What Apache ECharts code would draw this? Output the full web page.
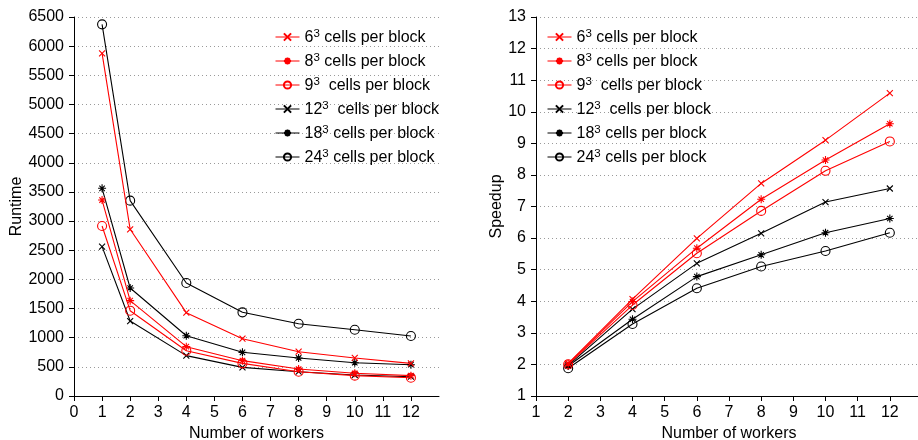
<!DOCTYPE html>
<html>
<head>
<meta charset="utf-8">
<script src="https://cdn.jsdelivr.net/npm/echarts@6/dist/echarts.min.js"></script>
<style>
  html, body { margin: 0; padding: 0; background: #fff; }
  #chart { width: 918px; height: 440px; }
</style>
</head>
<body>
<div id="chart"></div>
<script>
// block sizes (edge length, cubed in the legend)
var blockSizes = ['6', '8', '9', '12', '18', '24'];
var labelGaps = ['', '', ' ', ' ', '', ''];
var seriesColors = ['#ff0000', '#ff0000', '#ff0000', '#000000', '#000000', '#000000'];
var seriesMarks = ['cross', 'star', 'circle', 'cross', 'star', 'circle'];

// runtime plot
var workersRuntime = [1, 2, 4, 6, 8, 10, 12];
var runtime6 = [5877, 2859, 1429, 983, 760, 652, 560];
var runtime8 = [3361, 1635, 846, 606, 463, 389, 349];
var runtime9 = [2916, 1463, 777, 560, 417, 349, 314];
var runtime12 = [2561, 1286, 692, 491, 417, 360, 331];
var runtime18 = [3562, 1852, 1034, 749, 652, 571, 537];
var runtime24 = [6374, 3350, 1938, 1435, 1240, 1137, 1029];

// speedup plot
var workersSpeedup = [2, 4, 6, 8, 10, 12];
var speedup6 = [2.03, 4.07, 5.99, 7.73, 9.10, 10.59];
var speedup8 = [2.02, 3.99, 5.68, 7.23, 8.47, 9.62];
var speedup9 = [2.00, 3.88, 5.52, 6.86, 8.13, 9.06];
var speedup12 = [1.97, 3.75, 5.20, 6.15, 7.14, 7.57];
var speedup18 = [1.95, 3.43, 4.78, 5.47, 6.17, 6.62];
var speedup24 = [1.88, 3.28, 4.41, 5.10, 5.59, 6.17];

var xTicksRuntime = [0, 1, 2, 3, 4, 5, 6, 7, 8, 9, 10, 11, 12];
var xTicksSpeedup = [1, 2, 3, 4, 5, 6, 7, 8, 9, 10, 11, 12];

var runtimeData = [runtime6, runtime8, runtime9, runtime12, runtime18, runtime24];
var speedupData = [speedup6, speedup8, speedup9, speedup12, speedup18, speedup24];

var FONT = '"Liberation Sans", Arial, sans-serif';
var FS = 16;

var markSymbols = {
  cross: { symbol: 'path://M0 0L10 10M10 0L0 10', size: 6 },
  star: { symbol: 'path://M5 0L5 10M0 5L10 5M1.6 1.6L8.4 8.4M8.4 1.6L1.6 8.4', size: 8 },
  circle: { symbol: 'circle', size: 9 }
};

function pairs(xs, ys) {
  return xs.map(function (x, i) { return [x, ys[i]]; });
}

function makeSeries(values, xs, gridIdx) {
  return blockSizes.map(function (b, i) {
    var m = markSymbols[seriesMarks[i]];
    return {
      type: 'line',
      name: b,
      xAxisIndex: gridIdx,
      yAxisIndex: gridIdx,
      data: pairs(xs, values[i]),
      symbol: m.symbol,
      symbolSize: m.size,
      showAllSymbol: true,
      lineStyle: { color: seriesColors[i], width: 1.1 },
      itemStyle: { color: 'none', borderColor: seriesColors[i], borderWidth: 1.1 },
      emphasis: { disabled: true },
      z: 3 + (i < 3 ? 1 : 0)
    };
  });
}

function legendFormatter(name) {
  var i = blockSizes.indexOf(name);
  return '{b|' + name + '}{s|3}{b|' + labelGaps[i] + ' cells per block}';
}

function makeLegend(left) {
  return {
    data: blockSizes.map(function (b, i) {
      return { name: b, lineStyle: { color: seriesColors[i], width: 1 } };
    }),
    orient: 'vertical',
    left: left,
    top: 23,
    itemWidth: 24,
    itemHeight: 9,
    itemGap: 6,
    selectedMode: false,
    formatter: legendFormatter,
    textStyle: {
      fontFamily: FONT,
      color: '#000',
      rich: {
        b: { fontFamily: FONT, fontSize: FS, lineHeight: 18, verticalAlign: 'bottom', color: '#000' },
        s: { fontFamily: FONT, fontSize: 11.5, lineHeight: 11, verticalAlign: 'top', color: '#000' }
      }
    }
  };
}

function xAxis(gridIdx, min, ticks) {
  return {
    type: 'value',
    gridIndex: gridIdx,
    min: min,
    max: 13,
    interval: 1,
    name: 'Number of workers',
    nameLocation: 'middle',
    nameGap: 27,
    nameTextStyle: { fontFamily: FONT, fontSize: FS, color: '#000' },
    axisLine: { onZero: false, lineStyle: { color: '#000', width: 1 } },
    axisTick: { show: true, length: 5, customValues: ticks, lineStyle: { color: '#000' } },
    axisLabel: { customValues: ticks, margin: 9, fontFamily: FONT, fontSize: FS, color: '#000' },
    splitLine: { show: false }
  };
}

function yAxis(gridIdx, min, max, step, name, gap) {
  return {
    type: 'value',
    gridIndex: gridIdx,
    min: min,
    max: max,
    interval: step,
    name: name,
    nameLocation: 'middle',
    nameGap: gap,
    nameTextStyle: { fontFamily: FONT, fontSize: FS, color: '#000' },
    axisLine: { show: true, onZero: false, lineStyle: { color: '#000', width: 1 } },
    axisTick: { show: true, length: 5, lineStyle: { color: '#000' } },
    axisLabel: {
      margin: 10, fontFamily: FONT, fontSize: FS, color: '#000',
      formatter: function (v) { return String(v); }
    },
    splitLine: { show: true, lineStyle: { color: '#9a9a9a', width: 1, type: [1, 3] } }
  };
}

var chart = echarts.init(document.getElementById('chart'), null, { renderer: 'canvas' });

var option = {
  backgroundColor: '#fff',
  animation: false,
  grid: [
    { left: 74, right: 479, top: 17, bottom: 44, outerBoundsMode: 'none', containLabel: false },
    { left: 536, right: -4, top: 17, bottom: 44, outerBoundsMode: 'none', containLabel: false }
  ],
  xAxis: [xAxis(0, 0, xTicksRuntime), xAxis(1, 1, xTicksSpeedup)],
  yAxis: [yAxis(0, 0, 6500, 500, 'Runtime', 47), yAxis(1, 1, 13, 1, 'Speedup', 30)],
  legend: [makeLegend(270), makeLegend(542)],
  series: makeSeries(runtimeData, workersRuntime, 0).concat(makeSeries(speedupData, workersSpeedup, 1))
};

chart.setOption(option);
</script>
</body>
</html>
